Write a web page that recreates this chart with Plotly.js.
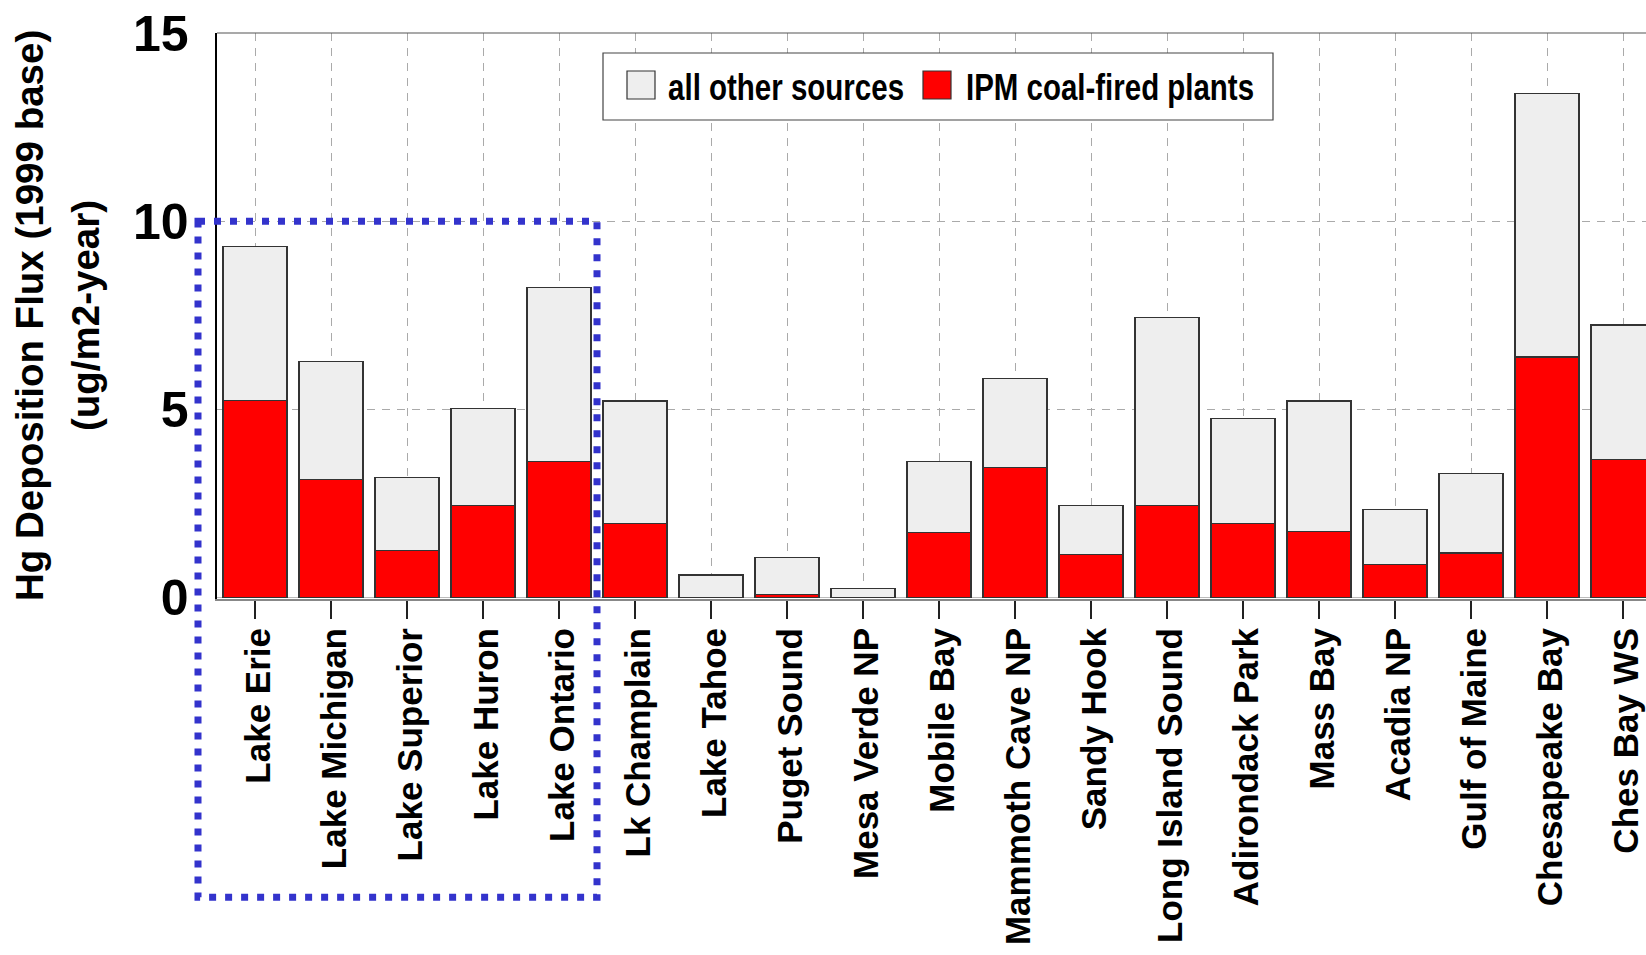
<!DOCTYPE html>
<html>
<head>
<meta charset="utf-8">
<script src="https://cdn.plot.ly/plotly-3.0.1.min.js"></script>
<style>
  html, body { margin: 0; padding: 0; overflow: hidden; background: #ffffff; }
  #chart { width: 1700px; height: 955px; }
</style>
</head>
<body>
<div id="chart"></div>
<script>
// ---- data ----
const categories = [
  "Lake Erie", "Lake Michigan", "Lake Superior", "Lake Huron", "Lake Ontario",
  "Lk Champlain", "Lake Tahoe", "Puget Sound", "Mesa Verde NP", "Mobile Bay",
  "Mammoth Cave NP", "Sandy Hook", "Long Island Sound", "Adirondack Park",
  "Mass Bay", "Acadia NP", "Gulf of Maine", "Chesapeake Bay", "Ches Bay WS"
];
const ipmCoal = [
  5.24, 3.14, 1.24, 2.45, 3.61,
  1.97, 0.00, 0.08, 0.00, 1.72,
  3.45, 1.14, 2.45, 1.97,
  1.76, 0.87, 1.18, 6.39, 3.66
];
const otherSources = [
  4.09, 3.14, 1.94, 2.57, 4.62,
  3.25, 0.60, 0.99, 0.23, 1.89,
  2.36, 1.31, 5.00, 2.79,
  3.46, 1.47, 2.11, 7.00, 3.58
];
const seriesNames = ["all other sources", "IPM coal-fired plants"];
const yTickVals = [0, 5, 10, 15];
const yTitleLines = ["Hg Deposition Flux (1999 base)", "(ug/m2-year)"];
const highlightFirst = 0, highlightLast = 4, highlightTop = 10;

// ---- styles ----
const RED = "#ff0000", GREY = "#eeeeee", OUTLINE = "#333333";
const BOLD = "Liberation Sans, Arial, Helvetica, sans-serif";
const Y_RANGE = [-0.04, 15];
const nCat = categories.length;
const xRange = [-0.5, nCat - 0.5];

function paperX(v) { return (v - xRange[0]) / (xRange[1] - xRange[0]); }
function paperY(v) { return (v - Y_RANGE[0]) / (Y_RANGE[1] - Y_RANGE[0]); }

const traces = [
  {
    type: "bar", name: seriesNames[1], x: categories, y: ipmCoal,
    marker: { color: RED, line: { color: OUTLINE, width: 1.2 } },
    showlegend: false, hoverinfo: "x+y+name"
  },
  {
    type: "bar", name: seriesNames[0], x: categories, y: otherSources,
    marker: { color: GREY, line: { color: OUTLINE, width: 1.2 } },
    showlegend: false, hoverinfo: "x+y+name"
  }
];

// legend built from shapes + annotations (pixel offsets from plot top-left)
function pxRect(x0, x1, y0, y1, fill, lineColor, lw) {
  return {
    type: "rect", layer: "above",
    xref: "paper", yref: "paper",
    xsizemode: "pixel", ysizemode: "pixel",
    xanchor: 0, yanchor: 1,
    x0: x0, x1: x1, y0: -y0, y1: -y1,
    fillcolor: fill, line: { color: lineColor, width: lw }
  };
}

const shapes = [
  // top frame line
  { type: "line", xref: "paper", yref: "paper", x0: 0, x1: 1, y0: 1, y1: 1,
    line: { color: "#555555", width: 1.2 }, layer: "above" },
  // legend box
  pxRect(386, 1056, 20, 87, "#ffffff", "#444444", 1.2),
  pxRect(410, 438, 38, 66, GREY, OUTLINE, 1.2),
  pxRect(706, 734, 38, 66, RED, OUTLINE, 1.2),
  // blue dotted highlight rectangle around the Great Lakes
  { type: "rect", layer: "above", xref: "paper", yref: "paper",
    x0: paperX(highlightFirst - 0.75), x1: paperX(highlightLast + 0.5),
    y0: paperY(highlightTop), y1: -0.527,
    fillcolor: "rgba(0,0,0,0)",
    line: { color: "#3333cc", width: 7, dash: "7px,9px" } }
];

// legend text: centre offset (px from plot left) and drawn width (condensed)
const legendText = [
  { text: seriesNames[0], cx: 569, w: 236 },
  { text: seriesNames[1], cx: 893, w: 288 }
];

const annotations = legendText.map(d => ({
  xref: "paper", yref: "paper", x: 0, y: 1, xanchor: "center", yanchor: "middle",
  xshift: d.cx, yshift: -54, showarrow: false, text: d.text,
  font: { family: BOLD, size: 36, color: "#000", weight: "bold" }
})).concat([
  { xref: "paper", yref: "paper", x: 0, y: 0.5, xanchor: "center", yanchor: "middle",
    xshift: -188, showarrow: false, textangle: -90, text: yTitleLines[0],
    font: { family: BOLD, size: 38.5, color: "#000", weight: "bold" } },
  { xref: "paper", yref: "paper", x: 0, y: 0.5, xanchor: "center", yanchor: "middle",
    xshift: -132, showarrow: false, textangle: -90, text: yTitleLines[1],
    font: { family: BOLD, size: 38.5, color: "#000", weight: "bold" } }
]);

const layout = {
  width: 1700, height: 955,
  margin: { l: 217, r: 39, t: 33, b: 356, pad: 0 },
  paper_bgcolor: "#ffffff", plot_bgcolor: "#ffffff",
  barmode: "stack", bargap: 0.16,
  showlegend: false,
  xaxis: {
    type: "category", range: xRange, fixedrange: true,
    showline: true, linecolor: "#888888", linewidth: 2, mirror: false,
    ticks: "outside", ticklen: 18, tickwidth: 1.5, tickcolor: "#222222",
    tickangle: -90, ticklabelstandoff: -5, ticklabelshift: 4,
    tickfont: { family: BOLD, size: 35, color: "#000", weight: "bold" },
    showgrid: true, gridcolor: "#aaaaaa", gridwidth: 1, griddash: "8px,7px",
    automargin: false
  },
  yaxis: {
    range: Y_RANGE, fixedrange: true,
    tickvals: yTickVals, ticktext: yTickVals.map(String),
    showline: true, linecolor: "#000000", linewidth: 2.5, mirror: false,
    ticks: "", ticklabelstandoff: 16,
    tickfont: { family: BOLD, size: 50, color: "#000", weight: "bold" },
    showgrid: true, gridcolor: "#aaaaaa", gridwidth: 1, griddash: "8px,7px",
    zeroline: true, zerolinecolor: "#bbbbbb", zerolinewidth: 1,
    automargin: false
  },
  shapes: shapes,
  annotations: annotations
};

Plotly.newPlot("chart", traces, layout, { displayModeBar: false, staticPlot: true })
  .then(function (gd) {
    // condense the legend labels horizontally (the reference uses a narrow bold face)
    gd.querySelectorAll(".annotation-text").forEach(function (el) {
      legendText.forEach(function (d) {
        if (el.textContent === d.text) {
          el.setAttribute("textLength", d.w);
          el.setAttribute("lengthAdjust", "spacingAndGlyphs");
        }
      });
    });
  });
</script>
</body>
</html>
